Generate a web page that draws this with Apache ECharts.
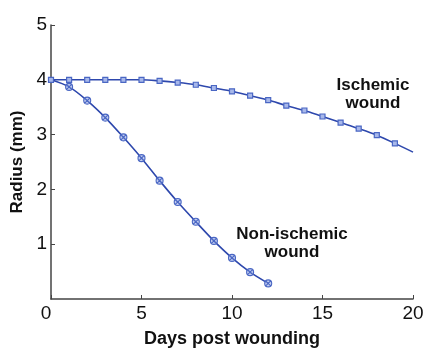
<!DOCTYPE html>
<html><head><meta charset="utf-8">
<script src="https://cdn.jsdelivr.net/npm/echarts@6/dist/echarts.min.js"></script>
<style>html,body{margin:0;padding:0;background:#fff}#c{width:445px;height:357px}</style>
</head><body><div id="c"></div>
<script>
const days = [0,1,2,3,4,5,6,7,8,9,10,11,12,13,14,15,16,17,18,19,20];
const ischemic = [4.0,4.0,4.0,4.0,4.0,4.0,3.98,3.95,3.91,3.85,3.79,3.71,3.63,3.53,3.44,3.33,3.22,3.11,2.99,2.84,2.68];
const nonIschemicDays = [0,1,2,3,4,5,6,7,8,9,10,11,12];
const nonIschemic = [4.0,3.87,3.62,3.31,2.95,2.57,2.16,1.77,1.41,1.06,0.75,0.49,0.285];
const xTicks = [0,5,10,15,20];
const yTicks = [1,2,3,4,5];
const labelIsch = ['Ischemic','wound'];
const labelNon = ['Non-ischemic','wound'];

const lineColor = '#2e48ad';
const markColor = '#4a67c4';
const crossCircle = 'path://M0,-5A5,5,0,1,1,0,5A5,5,0,1,1,0,-5ZM-3.5,-3.5L3.5,3.5M3.5,-3.5L-3.5,3.5';

const chart = echarts.init(document.getElementById('c'), null, {renderer:'canvas'});
const font = '"Liberation Sans", Arial, sans-serif';
chart.setOption({
  animation:false,
  grid:{left:51, right:32, top:25, bottom:58},
  xAxis:{type:'value', min:0, max:20, interval:5,
    axisLine:{lineStyle:{color:'#444', width:1.5}},
    axisTick:{inside:true, length:4, lineStyle:{color:'#444'}},
    splitLine:{show:false},
    axisLabel:{fontFamily:font, fontSize:19, color:'#111', margin:5,
      formatter:v=> v===0 ? '{z|0}' : (xTicks.includes(v)? String(v):''),
      rich:{z:{fontFamily:font, fontSize:19, color:'#111', padding:[0,10,0,0]}}},
    name:'Days post wounding', nameLocation:'middle', nameGap:31,
    nameTextStyle:{fontFamily:font, fontSize:18, fontWeight:'bold', color:'#111'}
  },
  yAxis:{type:'value', min:0, max:5, interval:1,
    axisLine:{show:true, lineStyle:{color:'#444', width:1.5}},
    axisTick:{show:true, inside:true, length:4, lineStyle:{color:'#444'}},
    splitLine:{show:false},
    axisLabel:{fontFamily:font, fontSize:19, color:'#111', margin:4, showMinLabel:false,
      formatter:v=> yTicks.includes(v)? String(v):''},
    name:'Radius (mm)', nameLocation:'middle', nameGap:20, nameRotate:90,
    nameTextStyle:{fontFamily:font, fontSize:17, fontWeight:'bold', color:'#111'}
  },
  series:[
    {type:'line', smooth:0.3,
      data: days.map((d,i)=> d===20 ? {value:[d, ischemic[i]], symbol:'none'} : [d, ischemic[i]]),
      lineStyle:{color:lineColor, width:1.6},
      symbol:'rect', symbolSize:5,
      itemStyle:{color:'#a8b8ea', borderColor:markColor, borderWidth:1.2},
      showAllSymbol:true,
      z:3
    },
    {type:'line', smooth:0.3,
      data: nonIschemicDays.map((d,i)=> d===0 ? {value:[d, nonIschemic[i]], symbol:'none'} : [d, nonIschemic[i]]),
      lineStyle:{color:lineColor, width:1.6},
      symbol:crossCircle, symbolSize:7,
      itemStyle:{color:'rgba(168,184,234,0.7)', borderColor:markColor, borderWidth:1.1},
      showAllSymbol:true,
      z:2
    }
  ],
  graphic:[
    {type:'text', x:373, y:94, style:{text:labelIsch.join('\n'), font:'bold 17px '+font, fill:'#111', align:'center', verticalAlign:'middle', lineHeight:18}, z:10},
    {type:'text', x:292, y:243, style:{text:labelNon.join('\n'), font:'bold 17px '+font, fill:'#111', align:'center', verticalAlign:'middle', lineHeight:18}, z:10}
  ]
});
</script></body></html>
